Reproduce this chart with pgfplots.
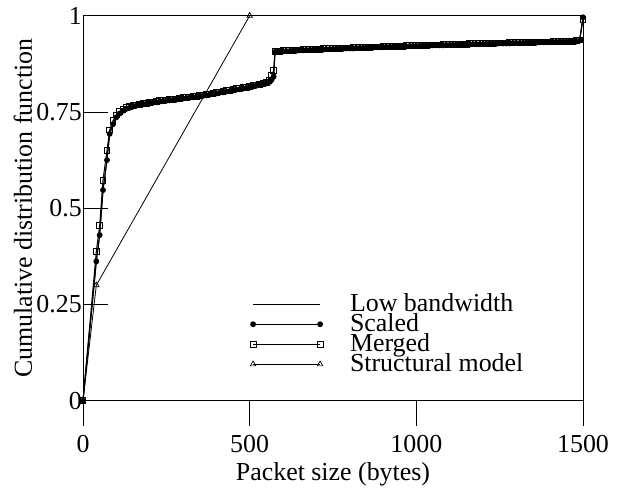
\documentclass[border=0pt]{standalone}
\usepackage{fontspec}
\setmainfont{Liberation Serif}
\usepackage{pgfplots}
\usepackage{pgfplotstable}
\pgfplotsset{compat=1.18}

% packet size, Scaled, Merged
\pgfplotstableread{
x s m
0 0 0
40 0.362 0.388
50 0.430 0.455
60 0.547 0.573
72 0.625 0.650
80 0.693 0.703
90 0.718 0.727
100 0.736 0.742
110 0.746 0.751
120 0.753 0.757
130 0.758 0.761
140 0.761 0.764
150 0.764 0.766
160 0.766 0.768
170 0.768 0.770
180 0.770 0.772
190 0.771 0.773
200 0.773 0.775
210 0.774 0.776
220 0.775 0.777
230 0.777 0.779
240 0.778 0.780
250 0.779 0.781
260 0.780 0.782
270 0.781 0.783
280 0.782 0.784
290 0.783 0.785
300 0.785 0.787
310 0.786 0.788
320 0.787 0.789
330 0.788 0.790
340 0.789 0.791
350 0.790 0.792
360 0.792 0.794
370 0.793 0.795
380 0.795 0.797
390 0.796 0.798
400 0.798 0.800
410 0.800 0.802
420 0.801 0.803
430 0.803 0.805
440 0.804 0.806
450 0.806 0.808
460 0.808 0.810
470 0.809 0.811
480 0.811 0.813
490 0.812 0.814
500 0.814 0.816
510 0.816 0.818
520 0.818 0.820
530 0.820 0.822
540 0.822 0.824
550 0.824 0.827
560 0.828 0.833
566 0.834 0.845
572 0.842 0.858
576 0.906 0.908
590 0.907 0.908
600 0.907 0.909
610 0.908 0.909
620 0.908 0.910
630 0.909 0.910
640 0.909 0.911
650 0.910 0.911
660 0.910 0.912
670 0.911 0.912
680 0.911 0.912
690 0.911 0.913
700 0.912 0.913
710 0.912 0.913
720 0.912 0.914
730 0.913 0.914
740 0.913 0.914
750 0.913 0.915
760 0.914 0.915
770 0.914 0.915
780 0.914 0.916
790 0.915 0.916
800 0.915 0.916
810 0.915 0.917
820 0.916 0.917
830 0.916 0.917
840 0.916 0.918
850 0.917 0.918
860 0.917 0.918
870 0.917 0.919
880 0.918 0.919
890 0.918 0.919
900 0.918 0.920
910 0.919 0.920
920 0.919 0.920
930 0.919 0.921
940 0.920 0.921
950 0.920 0.921
960 0.920 0.921
970 0.920 0.922
980 0.921 0.922
990 0.921 0.922
1000 0.921 0.923
1010 0.922 0.923
1020 0.922 0.923
1030 0.922 0.923
1040 0.922 0.924
1050 0.923 0.924
1060 0.923 0.924
1070 0.923 0.924
1080 0.923 0.925
1090 0.924 0.925
1100 0.924 0.925
1110 0.924 0.925
1120 0.924 0.926
1130 0.925 0.926
1140 0.925 0.926
1150 0.925 0.926
1160 0.925 0.927
1170 0.926 0.927
1180 0.926 0.927
1190 0.926 0.927
1200 0.926 0.928
1210 0.927 0.928
1220 0.927 0.928
1230 0.927 0.928
1240 0.927 0.929
1250 0.928 0.929
1260 0.928 0.929
1270 0.928 0.929
1280 0.928 0.930
1290 0.929 0.930
1300 0.929 0.930
1310 0.929 0.930
1320 0.929 0.931
1330 0.930 0.931
1340 0.930 0.931
1350 0.930 0.931
1360 0.930 0.932
1370 0.931 0.932
1380 0.931 0.932
1390 0.931 0.932
1400 0.931 0.932
1410 0.931 0.933
1420 0.932 0.933
1430 0.932 0.933
1440 0.932 0.933
1450 0.932 0.934
1460 0.933 0.934
1470 0.933 0.934
1480 0.933 0.935
1490 0.936 0.937
1500 0.996 0.990
}\cdfdata

\begin{document}
\begin{tikzpicture}[font=\fontsize{26}{30}\selectfont]
\begin{axis}[
    scale only axis,
    width=500bp, height=385bp,
    xmin=0, xmax=1500, ymin=0, ymax=1,
    clip=false,
    axis line style={line width=0.8bp},
    tick pos=left,
    xtick={0,500,1000,1500},
    xticklabels={0,500,1000,1500},
    ytick={0,0.25,0.5,0.75,1},
    yticklabels={0,0.25,0.5,0.75,1},
    major tick length=25bp,
    tick style={line width=0.8bp, black},
    x tick style={yshift=-25bp},
    xticklabel style={anchor=base, inner sep=0pt},
    xticklabel shift=52bp,
    yticklabel style={inner sep=0pt, xshift=-1bp},
    every axis x label/.style={at={(axis description cs:0.5,-0.206)}, anchor=base},
    every axis y label/.style={at={(axis description cs:-0.12,0.5)}, rotate=90, anchor=center},
    xlabel={Packet size (bytes)},
    ylabel={Cumulative distribution function},
    legend cell align=left,
    legend style={at={(rel axis cs:0.334,0.277)}, anchor=north west,
        draw=none, fill=none, inner sep=0pt, row sep=0pt,
        nodes={inner sep=0pt, text height=17bp, text depth=3bp},
        /tikz/every odd column/.append style={column sep=27bp}},
    legend image code/.code={\draw[#1] plot coordinates {(0bp,0bp) (67bp,0bp)};},
]
\addplot[black, line width=1bp, no marks] table[x=x, y=s] {\cdfdata};
\addplot[black, line width=1bp, mark=*, mark size=2.4bp] table[x=x, y=s] {\cdfdata};
\addplot[black, line width=1bp, mark=square, mark size=2.9bp,
    mark options={line width=0.9bp}] table[x=x, y=m] {\cdfdata};
\addplot[black, line width=0.8bp, mark=triangle, mark size=3.2bp,
    mark options={line width=0.7bp}] coordinates {(0,0) (40,0.30) (500,1)};
\legend{Low bandwidth, Scaled, Merged, Structural model}
\end{axis}
\pgfresetboundingbox
\path (-83bp,-88.3bp) rectangle (539bp,400.7bp);
\end{tikzpicture}
\end{document}
